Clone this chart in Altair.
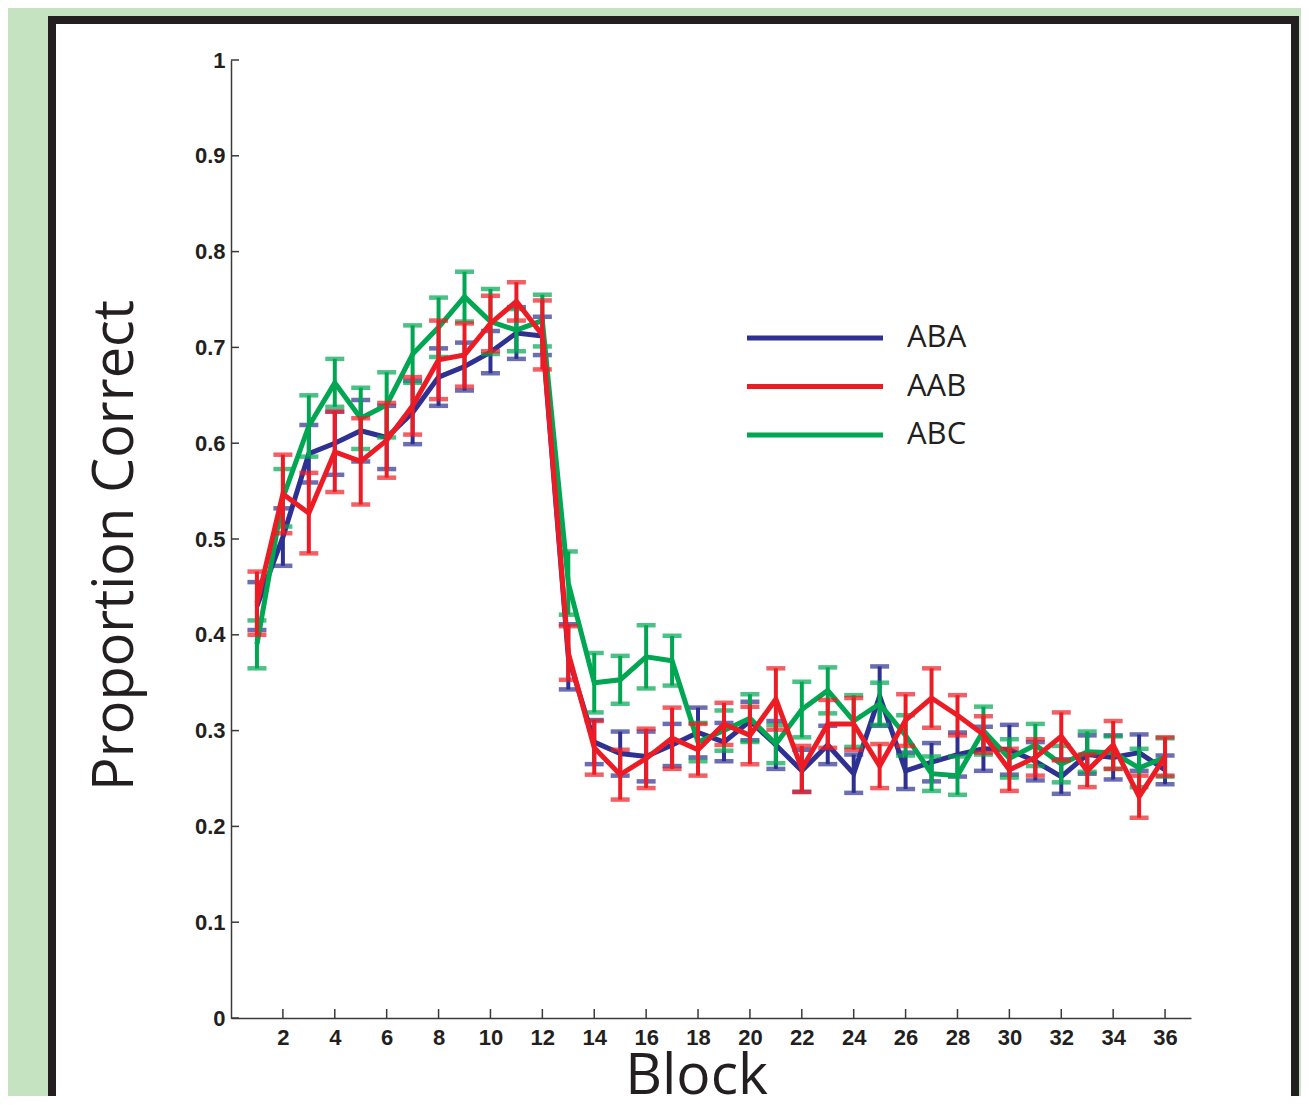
import altair as alt
import pandas as pd

blocks = list(range(1, 37))
series_names = ["ABA", "AAB", "ABC"]
series_colors = ["#2e3192", "#ed1c24", "#00a651"]
draw_order = ["ABA", "ABC", "AAB"]

aba_mean = [0.430, 0.502, 0.589, 0.600, 0.613, 0.606, 0.632, 0.669, 0.680, 0.695, 0.715, 0.712,
            0.377, 0.288, 0.276, 0.273, 0.285, 0.298, 0.288, 0.310, 0.285, 0.258, 0.285, 0.255,
            0.336, 0.258, 0.267, 0.275, 0.281, 0.280, 0.268, 0.252, 0.275, 0.272, 0.277, 0.259]
aba_err = [0.025, 0.030, 0.030, 0.033, 0.032, 0.033, 0.033, 0.030, 0.025, 0.022, 0.027, 0.020,
           0.034, 0.023, 0.023, 0.026, 0.022, 0.026, 0.020, 0.020, 0.025, 0.022, 0.020, 0.020,
           0.031, 0.019, 0.020, 0.023, 0.023, 0.026, 0.020, 0.018, 0.020, 0.023, 0.019, 0.015]

aab_mean = [0.433, 0.547, 0.527, 0.591, 0.581, 0.603, 0.639, 0.687, 0.692, 0.725, 0.748, 0.713,
            0.381, 0.282, 0.254, 0.271, 0.292, 0.280, 0.307, 0.295, 0.333, 0.260, 0.307, 0.307,
            0.263, 0.311, 0.334, 0.316, 0.296, 0.259, 0.272, 0.294, 0.258, 0.285, 0.231, 0.273]
aab_err = [0.033, 0.041, 0.042, 0.042, 0.045, 0.039, 0.030, 0.041, 0.033, 0.029, 0.020, 0.036,
           0.028, 0.028, 0.026, 0.031, 0.032, 0.027, 0.022, 0.030, 0.032, 0.024, 0.025, 0.027,
           0.023, 0.027, 0.031, 0.021, 0.019, 0.022, 0.019, 0.025, 0.017, 0.025, 0.022, 0.020]

abc_mean = [0.390, 0.543, 0.618, 0.663, 0.626, 0.640, 0.693, 0.721, 0.753, 0.727, 0.718, 0.728,
            0.454, 0.350, 0.353, 0.377, 0.373, 0.288, 0.300, 0.313, 0.286, 0.322, 0.342, 0.310,
            0.328, 0.295, 0.255, 0.253, 0.300, 0.271, 0.285, 0.265, 0.278, 0.277, 0.261, 0.272]
abc_err = [0.025, 0.030, 0.032, 0.025, 0.032, 0.034, 0.030, 0.031, 0.026, 0.034, 0.022, 0.027,
           0.033, 0.031, 0.025, 0.033, 0.026, 0.020, 0.021, 0.025, 0.020, 0.029, 0.024, 0.027,
           0.022, 0.021, 0.018, 0.020, 0.025, 0.020, 0.022, 0.019, 0.021, 0.017, 0.020, 0.020]

x_ticks = list(range(2, 37, 2))
y_ticks = [0, 0.1, 0.2, 0.3, 0.4, 0.5, 0.6, 0.7, 0.8, 0.9, 1]

means = {"ABA": aba_mean, "AAB": aab_mean, "ABC": abc_mean}
errs = {"ABA": aba_err, "AAB": aab_err, "ABC": abc_err}
colors = dict(zip(series_names, series_colors))

W, H = 960, 958
INK = "#231f20"
AXC = "#3a3a3a"
BG = "#c5e3c0"

xscale = alt.Scale(domain=[0, 37], nice=False, zero=False)
yscale = alt.Scale(domain=[0, 1], nice=False, zero=False)

x_axis = alt.Axis(values=x_ticks, tickSize=0, grid=False, domainColor=AXC, domainWidth=1.5,
                  labelFont="Liberation Sans", labelFontWeight="bold", labelFontSize=22,
                  labelColor=INK, labelPadding=9,
                  title="Block", titleFont="Open Sans", titleFontSize=57, titleFontWeight="normal",
                  titleColor=INK, titleX=465, titleY=75, titleBaseline="alphabetic",
                  titleAlign="center")
y_axis = alt.Axis(values=y_ticks, tickSize=0, grid=False, domainColor=AXC, domainWidth=1.5,
                  labelFont="Liberation Sans", labelFontWeight="bold", labelFontSize=22,
                  labelColor=INK, labelPadding=6,
                  labelExpr="format(datum.value, '.1~f')",
                  title="Proportion Correct", titleFont="Open Sans", titleFontSize=56,
                  titleFontWeight="normal", titleColor=INK, titleAngle=270, titleX=-99,
                  titleY=485, titleBaseline="alphabetic", titleAlign="center")

one = pd.DataFrame({"k": [0]})
green_left = alt.Chart(one).mark_rect(fill=BG).encode(
    x=alt.value(-230), x2=alt.value(-183), y=alt.value(-60), y2=alt.value(1100))
green_top = alt.Chart(one).mark_rect(fill=BG).encode(
    x=alt.value(-230), x2=alt.value(1090), y=alt.value(-60), y2=alt.value(-44))
green_right = alt.Chart(one).mark_rect(fill=BG).encode(
    x=alt.value(1068), x2=alt.value(1090), y=alt.value(-60), y2=alt.value(1100))
frame = alt.Chart(one).mark_rect(fill=None, stroke=INK, strokeWidth=8).encode(
    x=alt.value(-179), x2=alt.value(1064), y=alt.value(-40), y2=alt.value(1100))

xt = alt.Chart(pd.DataFrame({"block": x_ticks})).mark_rule(color=AXC, strokeWidth=1.5).encode(
    x=alt.X("block:Q", scale=xscale, axis=x_axis),
    y=alt.value(H), y2=alt.value(H - 9))
yt = alt.Chart(pd.DataFrame({"val": y_ticks})).mark_rule(color=AXC, strokeWidth=1.5).encode(
    y=alt.Y("val:Q", scale=yscale, axis=y_axis),
    x=alt.value(0), x2=alt.value(8))

layers = [xt, yt]
for s in draw_order:
    df = pd.DataFrame({"block": blocks, "val": means[s]})
    df["lo"] = [m - e for m, e in zip(means[s], errs[s])]
    df["hi"] = [m + e for m, e in zip(means[s], errs[s])]
    c = colors[s]
    base = alt.Chart(df)
    X = alt.X("block:Q", scale=xscale, axis=None)
    bars = base.mark_rule(color=c, strokeWidth=4).encode(
        x=X, y=alt.Y("lo:Q", scale=yscale, axis=None), y2="hi:Q")
    cap_lo = base.mark_tick(color=c, orient="horizontal", size=19, thickness=4.5).encode(
        x=X, y=alt.Y("lo:Q", scale=yscale, axis=None))
    cap_hi = base.mark_tick(color=c, orient="horizontal", size=19, thickness=4.5).encode(
        x=X, y=alt.Y("hi:Q", scale=yscale, axis=None))
    line = base.mark_line(color=c, strokeWidth=5, strokeJoin="miter").encode(
        x=X, y=alt.Y("val:Q", scale=yscale, axis=None))
    layers += [bars, cap_lo, cap_hi, line]

leg_df = pd.DataFrame({"series": series_names})
ly = alt.Y("series:N", scale=alt.Scale(type="point", domain=series_names, range=[278, 375], padding=0),
           axis=None)
leg_lines = alt.Chart(leg_df).mark_rule(strokeWidth=5).encode(
    x=alt.value(516), x2=alt.value(652), y=ly,
    color=alt.Color("series:N", scale=alt.Scale(domain=series_names, range=series_colors), legend=None))
leg_text = alt.Chart(leg_df).mark_text(align="left", baseline="middle", font="Open Sans",
                                       fontSize=31, color=INK).encode(
    x=alt.value(676), y=ly, text="series:N")

layers += [leg_lines, leg_text, green_left, green_top, green_right, frame]

chart = alt.layer(*layers).resolve_scale(x="independent", y="independent").properties(
    width=W, height=H,
    padding={"left": 223, "top": 52, "right": 110, "bottom": 78},
    autosize=alt.AutoSizeParams(type="none"),
    background="white",
).configure_view(stroke=None)

chart.save("out.html", embed_options={"renderer": "svg", "actions": False})
